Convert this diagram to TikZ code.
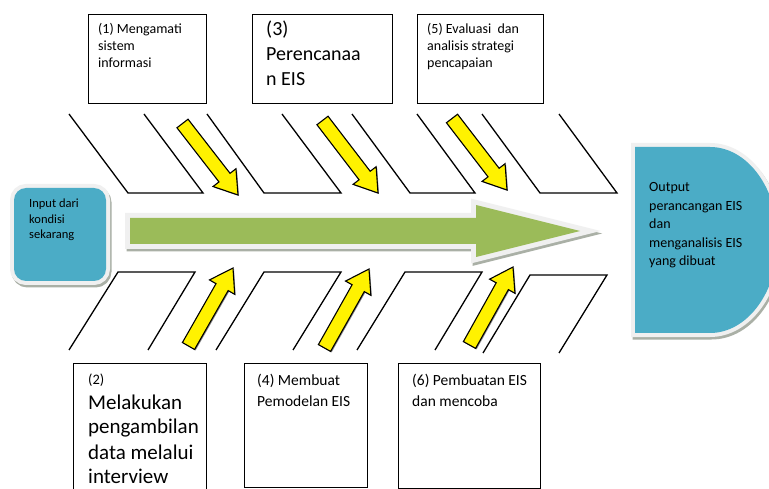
\documentclass[tikz,border=0pt]{standalone}
\usepackage{fontspec}
\setmainfont{Carlito}
\usetikzlibrary{calc}

\definecolor{aqua}{RGB}{75,172,198}
\definecolor{leaf}{RGB}{155,187,89}
\definecolor{rim}{RGB}{240,240,240}
\definecolor{shade}{RGB}{170,176,166}

% left-aligned block of lines; the block's baseline is that of its first line
\newcommand\txtlines[2]{\vtop{\baselineskip=#1\lineskiplimit=-30pt\lineskip=0pt\halign{##\hfil\cr#2\crcr}}}

% fat yellow block arrow from a tail point to a tip point
\newcommand\fatarrow[3]{%
  \coordinate (#1-tail) at #2;
  \coordinate (#1-tip) at #3;
  \coordinate (#1-base) at ($(#1-tip)!22pt!(#1-tail)$);
  \coordinate (#1-a) at ($(#1-tail)!7pt!90:(#1-tip)$);
  \coordinate (#1-b) at ($(#1-base)!7pt!90:(#1-tip)$);
  \coordinate (#1-c) at ($(#1-base)!14.5pt!90:(#1-tip)$);
  \coordinate (#1-d) at ($(#1-base)!14.5pt!-90:(#1-tip)$);
  \coordinate (#1-e) at ($(#1-base)!7pt!-90:(#1-tip)$);
  \coordinate (#1-f) at ($(#1-tail)!7pt!-90:(#1-tip)$);
  \draw[yarrow] (#1-a) -- (#1-b) -- (#1-c) -- (#1-tip) -- (#1-d) -- (#1-e) -- (#1-f) -- cycle;
}

\begin{document}
\begin{tikzpicture}[x=1pt, y=-1pt,
  bone/.style={line width=1.3pt, line join=miter},
  yarrow/.style={draw=black, line width=1.1pt, fill=yellow, line join=miter,
    preaction={fill=black!45, transform canvas={shift={(1pt,-1pt)}}}},
  box/.style={draw=black, line width=1pt, inner sep=0pt, anchor=north west},
  t12/.style={font=\fontsize{12.5pt}{15pt}\selectfont, anchor=base west, inner sep=0pt},
  t14/.style={font=\fontsize{14pt}{17pt}\selectfont, anchor=base west, inner sep=0pt},
  t15/.style={font=\fontsize{15.5pt}{19pt}\selectfont, anchor=base west, inner sep=0pt},
  t20/.style={font=\fontsize{20pt}{24pt}\selectfont, anchor=base west, inner sep=0pt},
  t21/.style={font=\fontsize{21pt}{25pt}\selectfont, anchor=base west, inner sep=0pt},
  glow/.style={preaction={draw=shade, fill=shade, line width=#1, transform canvas={shift={(1.5pt,-2.5pt)}}},
               preaction={draw=rim, line width=#1}}
]
\useasboundingbox (0,0) rectangle (769,489);
\fill[white] (0,0) rectangle (769,489);

% upper bones, open at the top
\draw[bone] (69,114) -- (128,193) -- (203,193) -- (144,114);
\draw[bone] (207,114) -- (264,193) -- (341,193) -- (282,114);
\draw[bone] (352,114) -- (410,193) -- (475,193) -- (417,114);
\draw[bone] (482,114) -- (540,193) -- (617,193) -- (559,114);

% lower bones, open at the bottom
\draw[bone] (69,350) -- (118,272) -- (195,272) -- (148,350);
\draw[bone] (216,350) -- (264,272) -- (341,272) -- (293,350);
\draw[bone] (357,350) -- (405,272) -- (482,272) -- (435,350);
\draw[bone] (483,353) -- (530,275) -- (607,275) -- (559,353);

% main green spine
\path[glow=10pt, fill=leaf, line join=miter]
  (130,218) -- (476,218) -- (476,205) -- (580,231) -- (476,257) -- (476,244) -- (130,244) -- cycle;

% input box
\node[glow=8pt, fill=aqua, rounded corners=12pt, minimum width=92pt, minimum height=93pt,
      inner sep=0pt] (in) at (60,234.5) {};
\node[t12] (tin) at (29,208) {\txtlines{15.5pt}{Input dari\cr kondisi\cr sekarang}};

% output shape: flat left side, half-ellipse on the right
\path[glow=8pt, fill=aqua]
  (635,147) -- (710,147) .. controls (747.6,147) and (778,188.6) .. (778,240)
  .. controls (778,291.4) and (747.6,333) .. (710,333) -- (635,333) -- cycle;
\node[t14] (tout) at (649,192) {\txtlines{18.5pt}{Output\cr perancangan EIS\cr dan\cr menganalisis EIS\cr yang dibuat}};

% yellow cause arrows
\fatarrow{a1}{(182.5,123.5)}{(238,195)}
\fatarrow{a3}{(322.5,120.5)}{(378,193)}
\fatarrow{a5}{(452,118.5)}{(507,190)}
\fatarrow{a2}{(188.5,346)}{(233,268)}
\fatarrow{a4}{(324.5,348)}{(369,269)}
\fatarrow{a6}{(469.5,345)}{(513,267)}

% upper step boxes
\node[box, minimum width=118pt, minimum height=89pt] (b1) at (88,14) {};
\node[box, minimum width=140pt, minimum height=89pt] (b3) at (252,14) {};
\node[box, minimum width=126pt, minimum height=89pt] (b5) at (417,14) {};
\node[t14] (t1) at (98,34) {\txtlines{17pt}{(1) Mengamati\cr sistem\cr informasi}};
\node[t20] (t3) at (266,36) {\txtlines{25pt}{(3)\cr Perencanaa\cr n EIS}};
\node[t14] (t5) at (427,34) {\txtlines{17pt}{(5) Evaluasi\ \ dan\cr analisis strategi\cr pencapaian}};

% lower step boxes
\node[box, minimum width=133pt, minimum height=132pt] (b2) at (73,363) {};
\node[box, minimum width=123pt, minimum height=124pt] (b4) at (244,363) {};
\node[box, minimum width=142pt, minimum height=125pt] (b6) at (398,363) {};
\node[t21] (t2) at (88,384) {\txtlines{25pt}{{\fontsize{14.5pt}{17pt}\selectfont (2)}\cr Melakukan\cr pengambilan\cr data melalui\cr interview}};
\node[t15] (t4) at (257,385) {\txtlines{21pt}{(4) Membuat\cr Pemodelan EIS}};
\node[t15] (t6) at (412,385) {\txtlines{21pt}{(6) Pembuatan EIS\cr dan mencoba}};
\end{tikzpicture}
\end{document}
